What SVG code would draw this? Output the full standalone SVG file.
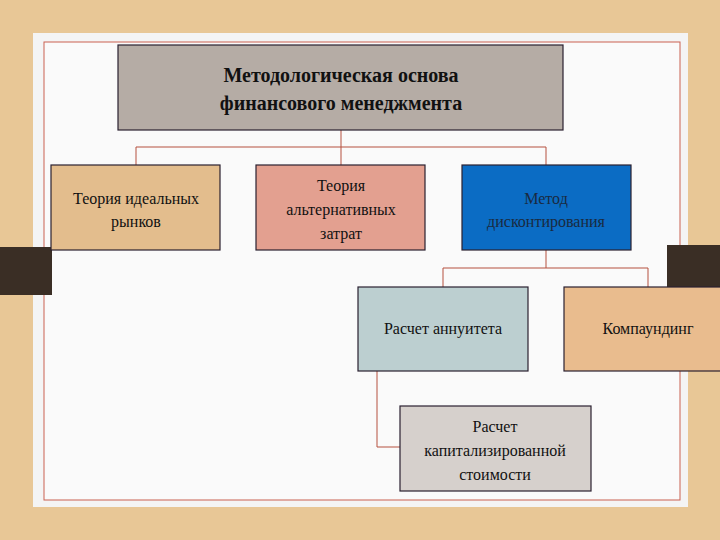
<svg xmlns="http://www.w3.org/2000/svg" width="720" height="540" viewBox="0 0 720 540">
<defs><style>
.b{stroke:#2a2030;stroke-width:1.2}
.t{font-family:"Liberation Serif",serif;font-size:16px;fill:#111;text-anchor:middle}
.h{font-size:20px;font-weight:bold}
.c{fill:none;stroke:#b5503f;stroke-width:1}
</style></defs>
<rect width="720" height="540" fill="#e8c796"/>
<rect x="33" y="33" width="655" height="474" fill="#f4f4f4"/>
<rect x="44" y="42" width="636" height="458" fill="#fafafa" stroke="#c96050" stroke-width="1"/>
<rect x="0" y="247" width="52" height="48" fill="#3a2e25"/>
<rect x="667" y="245" width="53" height="42" fill="#3a2e25"/>
<g id="connectors" class="c">
<path d="M341 130V165M136 165V147H546V165"/>
<path d="M546 250V268M443 287V268H648V287"/>
<path d="M377 371V447H400"/>
</g>
<g id="n1"><rect class="b" x="118" y="45" width="445" height="85" fill="#b5aca5"/>
<text class="t h" x="341" y="82">Методологическая основа</text>
<text class="t h" x="341" y="110">финансового менеджмента</text></g>
<g id="n2"><rect class="b" x="51" y="165" width="169" height="85" fill="#e3bd8d"/>
<text class="t" x="136" y="204">Теория идеальных</text><text class="t" x="136" y="227">рынков</text></g>
<g id="n3"><rect class="b" x="256" y="165" width="169" height="85" fill="#e3a090"/>
<text class="t" x="341" y="191">Теория</text><text class="t" x="341" y="215">альтернативных</text><text class="t" x="341" y="239">затрат</text></g>
<g id="n4"><rect class="b" x="462" y="165" width="169" height="85" fill="#0b6cc4"/>
<text class="t" x="546" y="204" style="fill:#1a2a40">Метод</text><text class="t" x="546" y="227" style="fill:#1a2a40">дисконтирования</text></g>
<g id="n5"><rect class="b" x="358" y="287" width="170" height="84" fill="#bccfd0"/>
<text class="t" x="443" y="334">Расчет аннуитета</text></g>
<g id="n6"><rect class="b" x="564" y="287" width="160" height="84" fill="#e9bc8e"/>
<text class="t" x="648" y="334">Компаундинг</text></g>
<g id="n7"><rect class="b" x="400" y="406" width="191" height="85" fill="#d6d0cc"/>
<text class="t" x="495" y="432">Расчет</text><text class="t" x="495" y="456">капитализированной</text><text class="t" x="495" y="480">стоимости</text></g>
</svg>
